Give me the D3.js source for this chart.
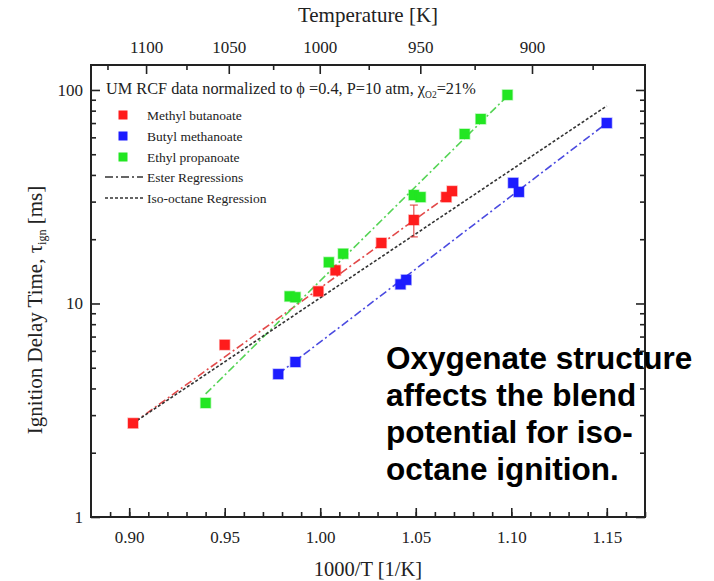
<!DOCTYPE html>
<html>
<head>
<meta charset="utf-8">
<script src="https://cdn.jsdelivr.net/npm/d3@7"></script>
<style>
  html, body { margin: 0; padding: 0; background: #fff; }
  svg { display: block; }
  .serif { font-family: "Liberation Serif", "Times New Roman", serif; fill: #222; }
</style>
</head>
<body>
<svg id="chart" width="714" height="581"></svg>
<script>
// Ignition delay data, [1000/T, tau_ign in ms]
const methylButanoate = [[0.902, 2.75], [0.950, 6.4], [0.999, 11.4], [1.008, 14.3], [1.032, 19.2], [1.049, 24.6], [1.066, 31.5], [1.069, 33.6]];
const butylMethanoate = [[0.978, 4.67], [0.987, 5.32], [1.042, 12.3], [1.045, 12.9], [1.101, 36.7], [1.104, 33.3], [1.150, 70.0]];
const ethylPropanoate = [[0.940, 3.42], [0.984, 10.8], [0.987, 10.7], [1.0045, 15.6], [1.012, 17.1], [1.049, 32.2], [1.0525, 31.5], [1.0756, 62.2], [1.084, 73.1], [1.098, 94.8]];
// error bar on one methyl butanoate point: [x, low, high]
const methylErr = [1.049, 20.5, 28.9];

// regression line end points
const mbFit = [[0.902, 2.75], [1.069, 33.0]];
const bmFit = [[0.978, 4.67], [1.150, 70.0]];
const epFit = [[0.940, 3.77], [1.100, 97.6]];
const isoFit = [[0.902, 2.75], [1.150, 84.2]];

// axis ticks
const xMajor = [0.90, 0.95, 1.00, 1.05, 1.10, 1.15];
const xMinor = d3.range(0.89, 1.1701, 0.01);
const tempMajor = [1100, 1050, 1000, 950, 900];
const tempMinor = [1125, 1075, 1025, 975, 925, 875];
const yMajor = [1, 10, 100];
const yMinor = [2, 3, 4, 5, 6, 7, 8, 9, 20, 30, 40, 50, 60, 70, 80, 90];

const legendNames = ["Methyl butanoate", "Butyl methanoate", "Ethyl propanoate"];
const noteLines = ["Oxygenate structure", "affects the blend", "potential for iso-", "octane ignition."];

const svg = d3.select("#chart");
const L = 91, R = 645, T = 65, B = 517;

const x = d3.scaleLinear().domain([0.88, 1.17]).range([L, R]);
const y = d3.scaleLog().domain([1, 130.9]).range([B, T]);

const markColor = { mb: "#ff1c1c", bm: "#1c1cff", ep: "#22e622" };
const lineColor = { mb: "#e24a4a", bm: "#4b4be0", ep: "#55d455" };

// ---- axes (ticks point inward) ----
function styleAxis(g) {
  g.select(".domain").remove();
  g.selectAll(".tick line").attr("stroke", "#222").attr("stroke-width", 1.6);
  g.selectAll(".tick text").attr("class", "serif").attr("font-size", 17).attr("fill", "#222");
}

// bottom
svg.append("g").attr("transform", `translate(0,${B})`)
  .call(d3.axisBottom(x).tickValues(xMinor).tickSize(-5).tickFormat(""))
  .call(styleAxis);
svg.append("g").attr("transform", `translate(0,${B})`)
  .call(d3.axisBottom(x).tickValues(xMajor).tickSize(-9).tickPadding(14).tickFormat(d3.format(".2f")))
  .call(styleAxis);

// top (temperature)
const xT = t => x(1000 / t);
const topG = svg.append("g").attr("transform", `translate(0,${T})`);
topG.selectAll("line.minor").data(tempMinor).join("line")
  .attr("x1", xT).attr("x2", xT).attr("y1", 0).attr("y2", 5)
  .attr("stroke", "#222").attr("stroke-width", 1.6);
topG.selectAll("line.major").data(tempMajor).join("line")
  .attr("x1", xT).attr("x2", xT).attr("y1", 0).attr("y2", 9)
  .attr("stroke", "#222").attr("stroke-width", 1.6);
topG.selectAll("text").data(tempMajor).join("text")
  .attr("class", "serif").attr("font-size", 17).attr("text-anchor", "middle")
  .attr("x", xT).attr("y", -12).text(d => d);

// left
svg.append("g").attr("transform", `translate(${L},0)`)
  .call(d3.axisLeft(y).tickValues(yMinor).tickSize(-5).tickFormat(""))
  .call(styleAxis);
svg.append("g").attr("transform", `translate(${L},0)`)
  .call(d3.axisLeft(y).tickValues(yMajor).tickSize(-9).tickPadding(8).tickFormat(d3.format("d")))
  .call(styleAxis);
// right
svg.append("g").attr("transform", `translate(${R},0)`)
  .call(d3.axisRight(y).tickValues(yMinor).tickSize(-5).tickFormat(""))
  .call(styleAxis);
svg.append("g").attr("transform", `translate(${R},0)`)
  .call(d3.axisRight(y).tickValues(yMajor).tickSize(-9).tickFormat(""))
  .call(styleAxis);

// frame
svg.append("rect").attr("x", L).attr("y", T).attr("width", R - L).attr("height", B - T)
  .attr("fill", "none").attr("stroke", "#222").attr("stroke-width", 2);

// ---- axis titles ----
svg.append("text").attr("class", "serif").attr("font-size", 21).attr("text-anchor", "middle")
  .attr("x", (L + R) / 2).attr("y", 22).text("Temperature [K]");
svg.append("text").attr("class", "serif").attr("font-size", 20.5).attr("text-anchor", "middle")
  .attr("x", (L + R) / 2).attr("y", 576).text("1000/T [1/K]");
const yt = svg.append("text").attr("class", "serif").attr("font-size", 21).attr("text-anchor", "middle")
  .attr("transform", `translate(42,310) rotate(-90)`);
yt.append("tspan").text("Ignition Delay Time, τ");
yt.append("tspan").attr("font-size", 12).attr("dy", 4).text("ign");
yt.append("tspan").attr("dy", -4).text(" [ms]");

// ---- regression lines ----
const line = d3.line().x(d => x(d[0])).y(d => y(d[1]));
const dashDot = "8,3,2,3";
[[mbFit, lineColor.mb], [bmFit, lineColor.bm], [epFit, lineColor.ep]].forEach(([d, c]) => {
  svg.append("path").datum(d).attr("d", line).attr("fill", "none")
    .attr("stroke", c).attr("stroke-width", 1.6).attr("stroke-dasharray", dashDot);
});
svg.append("path").datum(isoFit).attr("d", line).attr("fill", "none")
  .attr("stroke", "#333").attr("stroke-width", 1.6).attr("stroke-dasharray", "3,2");

// ---- error bar ----
const eg = svg.append("g").attr("stroke", "#e03030").attr("stroke-width", 1);
eg.append("line").attr("x1", x(methylErr[0])).attr("x2", x(methylErr[0]))
  .attr("y1", y(methylErr[1])).attr("y2", y(methylErr[2]));
[methylErr[1], methylErr[2]].forEach(v => {
  eg.append("line").attr("x1", x(methylErr[0]) - 4).attr("x2", x(methylErr[0]) + 4)
    .attr("y1", y(v)).attr("y2", y(v));
});

// ---- markers ----
const S = 10;
function squares(data, color) {
  svg.append("g").selectAll("rect").data(data).join("rect")
    .attr("x", d => x(d[0]) - S / 2).attr("y", d => y(d[1]) - S / 2)
    .attr("width", S).attr("height", S)
    .attr("fill", color).attr("stroke", color).attr("stroke-opacity", 0.35).attr("stroke-width", 1.5);
}
squares(methylButanoate, markColor.mb);
squares(ethylPropanoate, markColor.ep);
squares(butylMethanoate, markColor.bm);

// ---- legend ----
const lg = svg.append("g");
const title = lg.append("text").attr("class", "serif").attr("font-size", 16.3).attr("x", 106).attr("y", 94);
title.append("tspan").text("UM RCF data normalized to ϕ =0.4, P=10 atm, χ");
title.append("tspan").attr("font-size", 9.5).attr("dy", 4).text("O2");
title.append("tspan").attr("dy", -4).text("=21%");

const entryY = [115, 136, 157];
[markColor.mb, markColor.bm, markColor.ep].forEach((c, i) => {
  lg.append("rect").attr("x", 123 - 4.5).attr("y", entryY[i] - 4.5).attr("width", 9).attr("height", 9).attr("fill", c);
  lg.append("text").attr("class", "serif").attr("font-size", 13.5).attr("x", 147).attr("y", entryY[i] + 4.5).text(legendNames[i]);
});
lg.append("line").attr("x1", 105).attr("x2", 143).attr("y1", 177).attr("y2", 177)
  .attr("stroke", "#333").attr("stroke-width", 1.4).attr("stroke-dasharray", dashDot);
lg.append("text").attr("class", "serif").attr("font-size", 13.5).attr("x", 147).attr("y", 181.5).text("Ester Regressions");
lg.append("line").attr("x1", 105).attr("x2", 143).attr("y1", 198).attr("y2", 198)
  .attr("stroke", "#333").attr("stroke-width", 1.4).attr("stroke-dasharray", "3,2");
lg.append("text").attr("class", "serif").attr("font-size", 13.5).attr("x", 147).attr("y", 202.5).text("Iso-octane Regression");

// ---- note ----
svg.append("g").selectAll("text").data(noteLines).join("text")
  .attr("x", 386).attr("y", (d, i) => 369 + i * 37)
  .attr("font-family", "'Liberation Sans', Arial, sans-serif").attr("font-weight", "bold")
  .attr("font-size", 31.5).attr("fill", "#000").text(d => d);
</script>
</body>
</html>
